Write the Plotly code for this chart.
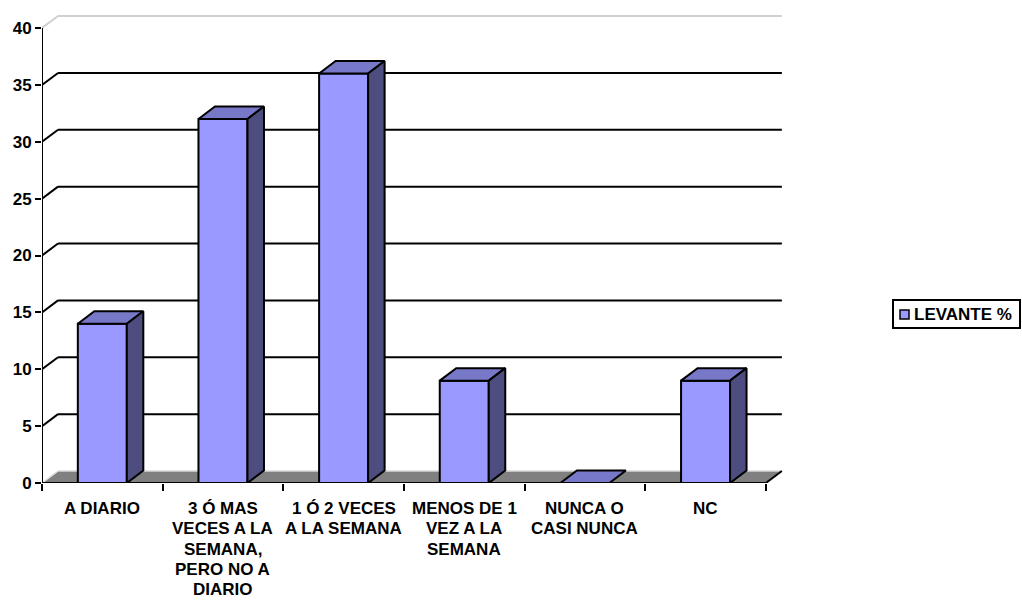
import plotly.graph_objects as go

# ---- data ----
categories = [
    "A DIARIO",
    "3 Ó MAS<br>VECES A LA<br>SEMANA,<br>PERO NO A<br>DIARIO",
    "1 Ó 2 VECES<br>A LA SEMANA",
    "MENOS DE 1<br>VEZ A LA<br>SEMANA",
    "NUNCA O<br>CASI NUNCA",
    "NC",
]
values = [14, 32, 36, 9, 0, 9]
series_name = "LEVANTE %"
y_ticks = [0, 5, 10, 15, 20, 25, 30, 35, 40]

# ---- style / geometry ----
FRONT = "#9999FF"
TOP = "#7878C8"
SIDE = "#4D4D80"
FLOOR = "#808080"
FONT = "Liberation Sans, Arial, sans-serif"
FS = 17

W, H = 1022, 608
ML, MR, MT, MB = 42, 232, 11, 125
PW, PH = W - ML - MR, H - MT - MB
XMAX, YMAX = 6.2, 41.5
px_per_x = PW / XMAX
px_per_y = PH / YMAX
DX = 16.5 / px_per_x        # depth offset in x units
DY = 12.5 / px_per_y        # depth offset in y units
BW = 49 / px_per_x          # bar width
WDX = 16 / px_per_x
WDY = 12 / px_per_y
n = len(categories)
centers = [i + 0.5 for i in range(n)]


def paper_x(px):
    return (px - ML) / PW


def paper_y(py):
    return (H - MB - py) / PH


fig = go.Figure()

shapes = []
# floor
shapes.append(dict(type="path", xref="x", yref="y", layer="below",
                   path=f"M0,0 L{n},0 L{n+WDX},{WDY} L{WDX},{WDY} Z",
                   fillcolor=FLOOR, line=dict(color=FLOOR, width=0)))
shapes.append(dict(type="line", xref="x", yref="y", layer="below",
                   x0=WDX, y0=WDY, x1=n + WDX, y1=WDY, line=dict(color="#D8D8D8", width=1.5)))
shapes.append(dict(type="line", xref="x", yref="y", layer="below",
                   x0=0, y0=0, x1=WDX, y1=WDY, line=dict(color="#E0E0E0", width=1.5)))
shapes.append(dict(type="line", xref="x", yref="y", layer="below",
                   x0=n, y0=0, x1=n + WDX, y1=WDY, line=dict(color="black", width=2)))
# gridlines on walls
for t in y_ticks[1:-1]:
    shapes.append(dict(type="line", xref="x", yref="y", layer="below",
                       x0=0, y0=t, x1=WDX, y1=t + WDY, line=dict(color="black", width=2)))
    shapes.append(dict(type="line", xref="x", yref="y", layer="below",
                       x0=WDX, y0=t + WDY, x1=n + WDX, y1=t + WDY, line=dict(color="black", width=2)))
top = y_ticks[-1]
shapes.append(dict(type="line", xref="x", yref="y", layer="below",
                   x0=0, y0=top, x1=WDX, y1=top + WDY, line=dict(color="#D0D0D0", width=2)))
shapes.append(dict(type="line", xref="x", yref="y", layer="below",
                   x0=WDX, y0=top + WDY, x1=n + WDX, y1=top + WDY, line=dict(color="#D0D0D0", width=2)))
# front axes
shapes.append(dict(type="line", xref="x", yref="y", layer="below",
                   x0=0, y0=0, x1=0, y1=top, line=dict(color="black", width=2)))
shapes.append(dict(type="line", xref="x", yref="y", layer="below",
                   x0=0, y0=0, x1=n, y1=0, line=dict(color="black", width=2)))

# legend (box, key, text)
shapes.append(dict(type="rect", xref="paper", yref="paper",
                   x0=paper_x(893), x1=paper_x(1020), y0=paper_y(328), y1=paper_y(300),
                   fillcolor="white", line=dict(color="black", width=2)))
shapes.append(dict(type="rect", xref="paper", yref="paper",
                   x0=paper_x(900), x1=paper_x(909), y0=paper_y(319), y1=paper_y(310),
                   fillcolor=FRONT, line=dict(color="black", width=1.5)))

# front faces: real bars
fig.add_trace(go.Bar(
    x=centers, y=values, width=BW, name=series_name,
    marker=dict(color=FRONT, line=dict(color="black", width=2)),
    showlegend=False, hoverinfo="skip",
))

# top and side faces
for c, v in zip(centers, values):
    xl, xr = c - BW / 2, c + BW / 2
    fig.add_trace(go.Scatter(
        x=[xl, xr, xr + DX, xl + DX, xl], y=[v, v, v + DY, v + DY, v],
        mode="lines", fill="toself", fillcolor=TOP,
        line=dict(color="black", width=2), showlegend=False, hoverinfo="skip"))
    if v > 0:
        fig.add_trace(go.Scatter(
            x=[xr, xr + DX, xr + DX, xr, xr], y=[0, DY, v + DY, v, 0],
            mode="lines", fill="toself", fillcolor=SIDE,
            line=dict(color="black", width=2), showlegend=False, hoverinfo="skip"))

annotations = []
LINE_H = 20.3
for c, label in zip(centers, categories):
    for k, line in enumerate(label.split("<br>")):
        annotations.append(dict(x=c, y=0, xref="x", yref="y", text=line, showarrow=False,
                                yanchor="top", xanchor="center", align="center",
                                yshift=-14 - k * LINE_H,
                                font=dict(family=FONT, size=FS, color="black", weight="bold")))
annotations.append(dict(x=paper_x(912), y=paper_y(314.5), xref="paper", yref="paper",
                        text=series_name, showarrow=False, xanchor="left", yanchor="middle",
                        font=dict(family=FONT, size=FS, color="black", weight="bold")))

fig.update_layout(
    width=W, height=H,
    margin=dict(l=ML, r=MR, t=MT, b=MB, autoexpand=False),
    paper_bgcolor="white", plot_bgcolor="white",
    shapes=shapes, annotations=annotations,
    showlegend=False,
    xaxis=dict(range=[0, XMAX], showgrid=False, zeroline=False, showline=False,
               tickmode="array", tickvals=list(range(n + 1)), showticklabels=False,
               ticks="outside", ticklen=7, tickwidth=2, tickcolor="black", fixedrange=True),
    yaxis=dict(range=[0, YMAX], showgrid=False, zeroline=False, showline=False,
               tickmode="array", tickvals=y_ticks, ticks="outside", ticklen=6, tickwidth=2,
               tickcolor="black", fixedrange=True,
               tickfont=dict(family=FONT, size=FS, color="black", weight="bold")),
)

fig.write_html("out.html", config={"displayModeBar": False},
               post_script="document.body.style.margin='0px';")
